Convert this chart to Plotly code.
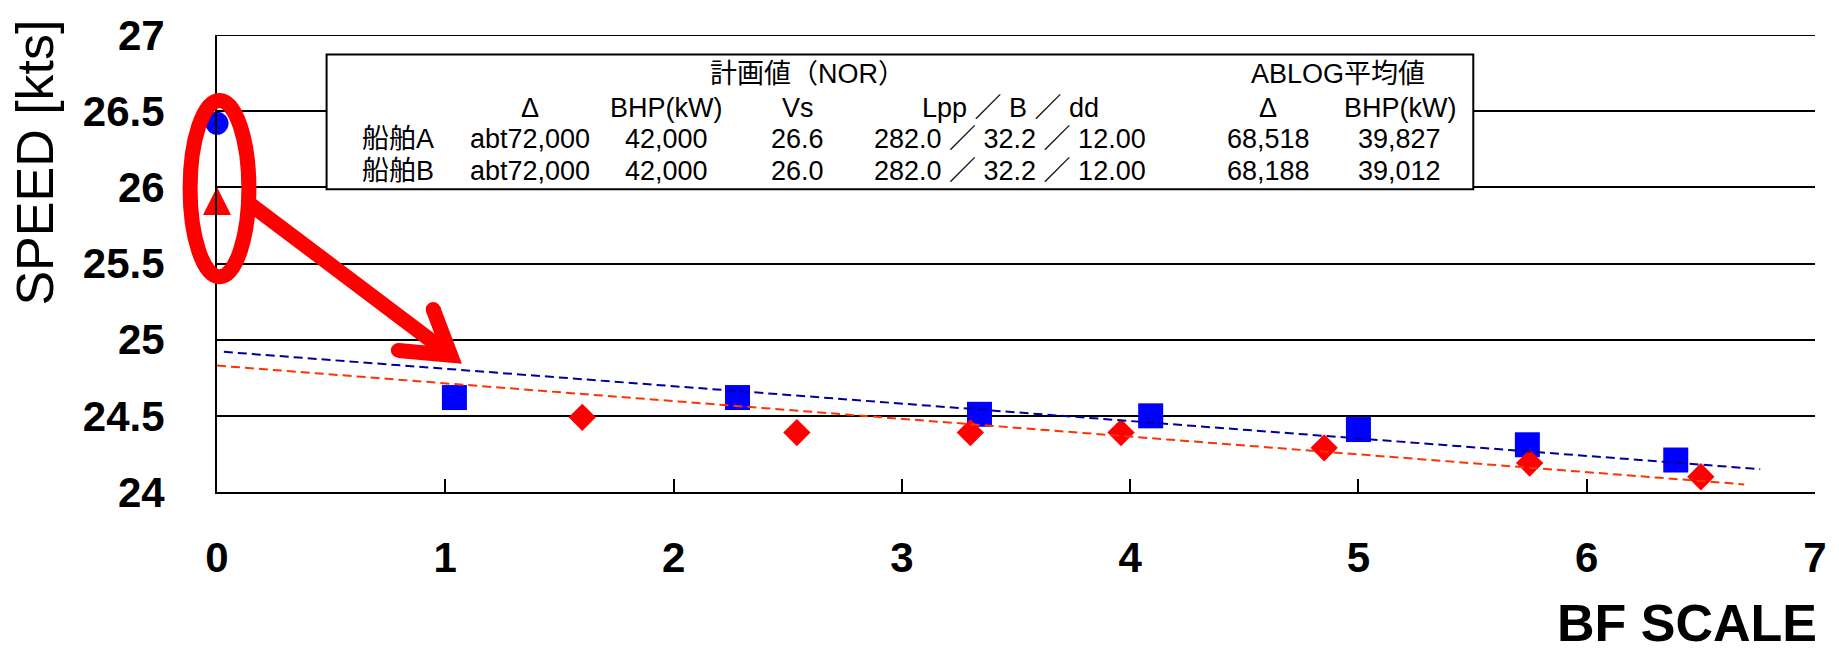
import plotly.graph_objects as go

# ---------------- data ----------------
bf_ship_a = [1.04, 2.28, 3.34, 4.09, 5.00, 5.74, 6.39]
speed_ship_a = [24.62, 24.62, 24.51, 24.50, 24.41, 24.31, 24.21]

bf_ship_b = [1.60, 2.54, 3.30, 3.96, 4.85, 5.75, 6.50]
speed_ship_b = [24.49, 24.39, 24.39, 24.39, 24.29, 24.19, 24.10]

trend_a_x = [0.03, 6.76]
trend_a_y = [24.92, 24.15]
trend_b_x = [0.0, 6.69]
trend_b_y = [24.83, 24.05]

plan_a_x = [0.0]
plan_a_y = [26.42]
plan_b_x = [0.0]
plan_b_y = [25.91]

x_tickvals = [0, 1, 2, 3, 4, 5, 6, 7]
x_ticktext = ["0", "1", "2", "3", "4", "5", "6", "7"]
y_tickvals = [24, 24.5, 25, 25.5, 26, 26.5, 27]
y_ticktext = ["24", "24.5", "25", "25.5", "26", "26.5", "27"]

table_title_plan = "計画値（NOR）"
table_title_ablog = "ABLOG平均値"
table_header = ["", "Δ", "BHP(kW)", "Vs", "Lpp ／ B ／ dd", "Δ", "BHP(kW)"]
table_row_a = ["船舶A", "abt72,000", "42,000", "26.6", "282.0 ／ 32.2 ／ 12.00", "68,518", "39,827"]
table_row_b = ["船舶B", "abt72,000", "42,000", "26.0", "282.0 ／ 32.2 ／ 12.00", "68,188", "39,012"]

# ---------------- layout geometry (pixels) ----------------
W, H = 1839, 652
L, R, T, B = 217, 1821, 24, 492


def px(x):
    return (x - L) / (R - L)


def py(y):
    return (B - y) / (B - T)


col_centers = [399, 531, 668, 800, 1013, 1272, 1404]
row_ys = [99, 131, 163]
title_y = 64
title_xs = [810, 1342]

BLUE = "#0000FF"
RED = "#FF0000"
TICKFONT = dict(family="Liberation Sans", size=42, color="black", weight="bold")
TABLEFONT = dict(family="Liberation Sans, Noto Sans CJK JP", size=27, color="black")

fig = go.Figure()

fig.add_trace(go.Scatter(
    x=bf_ship_a, y=speed_ship_a, mode="markers", name="船舶A",
    marker=dict(symbol="square", size=25, color=BLUE, line=dict(width=0)),
))
fig.add_trace(go.Scatter(
    x=bf_ship_b, y=speed_ship_b, mode="markers", name="船舶B",
    marker=dict(symbol="diamond", size=21, color=RED, line=dict(width=0)),
))
fig.add_trace(go.Scatter(
    x=trend_a_x, y=trend_a_y, mode="lines", name="trend A",
    line=dict(color="#000099", width=2, dash="9px,5px"),
))
fig.add_trace(go.Scatter(
    x=trend_b_x, y=trend_b_y, mode="lines", name="trend B",
    line=dict(color="#FF3300", width=2, dash="9px,5px"),
))
fig.add_trace(go.Scatter(
    x=plan_a_x, y=plan_a_y, mode="markers", name="計画値A", cliponaxis=False,
    marker=dict(symbol="circle", size=23, color=BLUE, line=dict(width=0)),
))
fig.add_trace(go.Scatter(
    x=plan_b_x, y=plan_b_y, mode="markers", name="計画値B", cliponaxis=False,
    marker=dict(symbol="arrow-down", angle=180, size=28, standoff=14, color=RED,
                line=dict(width=0)),
))

shapes = []
# top gridline (27)
shapes.append(dict(type="line", xref="paper", yref="y", x0=0, x1=1, y0=27, y1=27,
                   line=dict(color="black", width=2), layer="below"))
# table box
shapes.append(dict(type="rect", xref="paper", yref="paper",
                   x0=px(327), x1=px(1478), y0=py(182), y1=py(44),
                   fillcolor="white", line=dict(color="black", width=2), layer="above"))
# red ellipse
shapes.append(dict(type="circle", xref="paper", yref="paper",
                   x0=px(190), x1=px(249), y0=py(271.5), y1=py(91),
                   line=dict(color=RED, width=15), layer="above"))
# arrow shaft
vx, vy = 451.5, 352
shapes.append(dict(type="line", xref="paper", yref="paper",
                   x0=px(250), y0=py(197), x1=px(vx), y1=py(vy),
                   line=dict(color=RED, width=15), layer="above"))
# arrow head (open V)
a1 = (434, 305)
a2 = (399, 347)
path = "M{:.5f},{:.5f} L{:.5f},{:.5f} L{:.5f},{:.5f}".format(
    px(a1[0]), py(a1[1]), px(vx), py(vy), px(a2[0]), py(a2[1]))
shapes.append(dict(type="path", xref="paper", yref="paper", path=path,
                   line=dict(color=RED, width=15), layer="above"))
for (cx, cy) in (a1, a2):
    shapes.append(dict(type="circle", xref="paper", yref="paper",
                       x0=px(cx - 7.5), x1=px(cx + 7.5), y0=py(cy + 7.5), y1=py(cy - 7.5),
                       fillcolor=RED, line=dict(width=0), layer="above"))

annotations = []
for t, xc in zip([table_title_plan, table_title_ablog], title_xs):
    annotations.append(dict(text=t, x=px(xc), y=py(title_y), xref="paper", yref="paper",
                            xanchor="center", yanchor="middle", showarrow=False, font=TABLEFONT))
for row, yc in zip([table_header, table_row_a, table_row_b], row_ys):
    for cell, xc in zip(row, col_centers):
        if cell:
            annotations.append(dict(text=cell, x=px(xc), y=py(yc), xref="paper", yref="paper",
                                    xanchor="center", yanchor="middle", showarrow=False,
                                    font=TABLEFONT))

annotations.append(dict(text="SPEED [kts]", textangle=-90, x=px(34), y=py(155),
                        xref="paper", yref="paper", xanchor="center", yanchor="middle",
                        showarrow=False,
                        font=dict(family="Liberation Sans", size=52, color="black")))
annotations.append(dict(text="BF SCALE", x=px(1825), y=py(626),
                        xref="paper", yref="paper", xanchor="right", yanchor="middle",
                        showarrow=False,
                        font=dict(family="Liberation Sans", size=52, color="black", weight="bold")))

fig.update_layout(
    width=W, height=H,
    margin=dict(l=L, r=W - R, t=T, b=H - B, pad=0),
    paper_bgcolor="white", plot_bgcolor="white",
    showlegend=False,
    shapes=shapes, annotations=annotations,
    xaxis=dict(range=[0, 7], tickmode="array", tickvals=x_tickvals, ticktext=x_ticktext,
               showline=True, linecolor="black", linewidth=2,
               ticks="inside", ticklen=13, tickwidth=2, tickcolor="black",
               showgrid=False, zeroline=False, tickfont=TICKFONT, ticklabelstandoff=28),
    yaxis=dict(range=[24, 27], tickmode="array", tickvals=y_tickvals, ticktext=y_ticktext,
               showline=True, linecolor="black", linewidth=2,
               ticks="", showgrid=True, gridcolor="black", gridwidth=2,
               zeroline=False, tickfont=TICKFONT, ticklabelstandoff=42),
)

fig.write_html("out.html", config={"displayModeBar": False},
               post_script="document.body.style.margin='0';")
